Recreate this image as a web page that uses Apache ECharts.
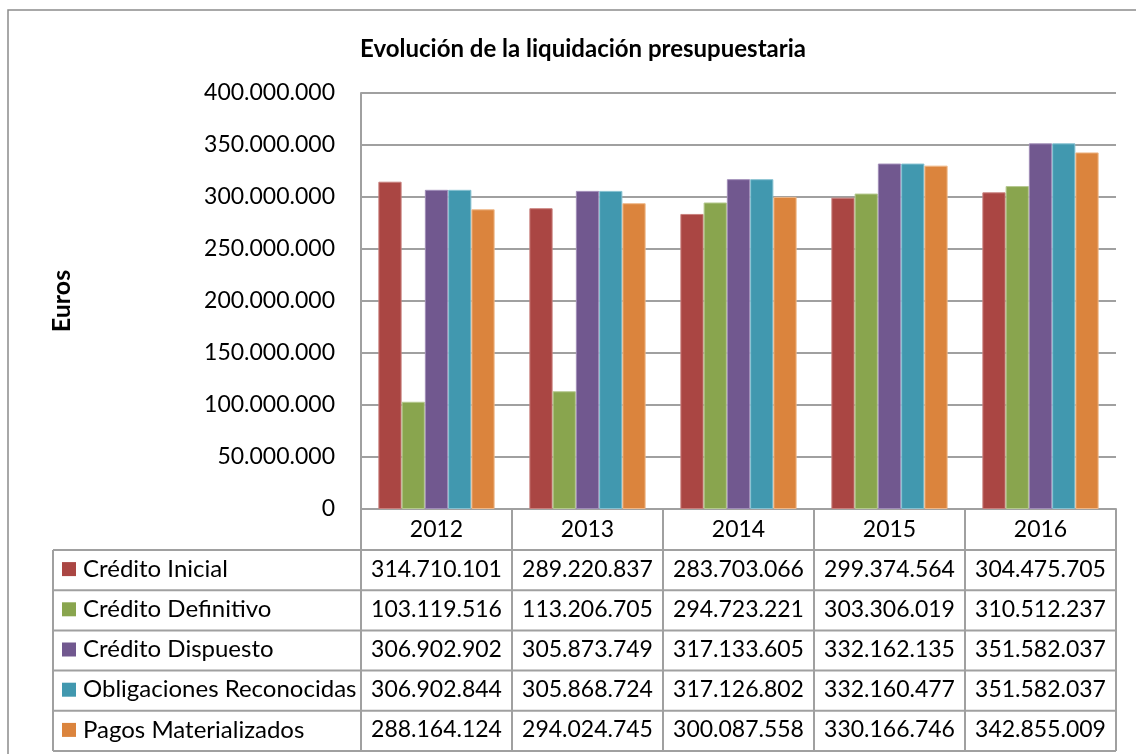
<!DOCTYPE html>
<html>
<head>
<meta charset="utf-8">
<title>Evolución de la liquidación presupuestaria</title>
<script src="https://cdn.jsdelivr.net/npm/echarts@6/dist/echarts.min.js"></script>
<style>
  html, body { margin: 0; padding: 0; background: #fff; }
  #chart { width: 1136px; height: 754px; }
</style>
</head>
<body>
<div id="chart"></div>
<script>
// años (categorías)
const years = ['2012', '2013', '2014', '2015', '2016'];
// nombres de las series
const seriesNames = ['Crédito Inicial', 'Crédito Definitivo', 'Crédito Dispuesto', 'Obligaciones Reconocidas', 'Pagos Materializados'];
// valores por serie
const creditoInicial = [314710101, 289220837, 283703066, 299374564, 304475705];
const creditoDefinitivo = [103119516, 113206705, 294723221, 303306019, 310512237];
const creditoDispuesto = [306902902, 305873749, 317133605, 332162135, 351582037];
const obligacionesReconocidas = [306902844, 305868724, 317126802, 332160477, 351582037];
const pagosMaterializados = [288164124, 294024745, 300087558, 330166746, 342855009];
// eje y
const yMin = 0;
const yMax = 400000000;
const yStep = 50000000;

const seriesData = [creditoInicial, creditoDefinitivo, creditoDispuesto, obligacionesReconocidas, pagosMaterializados];
const colors = ['#AA4643', '#89A54E', '#71588F', '#4198AF', '#DB843D'];
const borders = ['#C9807D', '#B5C98F', '#A08DB8', '#86C1D1', '#EFB889'];
const gridColor = '#a0a0a0';
const font = 'Lato';

// formato con puntos de miles
function fmt(v) {
  return String(v).replace(/\B(?=(\d{3})+(?!\d))/g, '.');
}

let myChart = echarts.init(document.getElementById('chart'));

let option = {
  animation: false,
  backgroundColor: '#fff',
  textStyle: { fontFamily: font },
  title: {
    text: 'Evolución de la liquidación presupuestaria',
    left: 578,
    top: 32,
    textAlign: 'center',
    textStyle: { fontFamily: font, fontSize: 24, fontWeight: 'bold', color: '#000' }
  },
  grid: { left: 361, top: 93, right: 20, bottom: 245 },
  xAxis: {
    type: 'category',
    data: years,
    axisLine: { show: true, lineStyle: { color: gridColor, width: 2 } },
    axisTick: { show: false },
    axisLabel: { margin: 21, verticalAlign: 'middle', fontSize: 23, color: '#000', fontFamily: font }
  },
  yAxis: {
    type: 'value',
    min: yMin,
    max: yMax,
    interval: yStep,
    name: 'Euros',
    nameLocation: 'middle',
    nameGap: 287,
    nameRotate: 90,
    nameTextStyle: { fontSize: 25, fontWeight: 'bold', color: '#000', fontFamily: font },
    axisLine: { show: true, lineStyle: { color: gridColor, width: 2 } },
    axisTick: { show: false },
    axisLabel: { margin: 26, fontSize: 23, color: '#000', fontFamily: font, formatter: v => fmt(v) },
    splitLine: { lineStyle: { color: gridColor, width: 2 } }
  },
  series: seriesNames.map((name, i) => ({
    name: name,
    type: 'bar',
    data: seriesData[i],
    barGap: '0%',
    barCategoryGap: '23%',
    itemStyle: { color: colors[i], borderColor: borders[i], borderWidth: 1 }
  }))
};
myChart.setOption(option);

// tabla de datos bajo el gráfico
const p0 = myChart.convertToPixel({ gridIndex: 0 }, [0, 0]);
const p1 = myChart.convertToPixel({ gridIndex: 0 }, [1, 0]);
const band = p1[0] - p0[0];
const axisY = p0[1];
const plotLeft = p0[0] - band / 2;
const plotRight = plotLeft + band * years.length;
const tableLeft = 53;
const headerH = 41;
const rowH = 40.2;
const tableBottom = axisY + headerH + rowH * seriesNames.length;

const lineStyle = { stroke: gridColor, lineWidth: 2 };
let graphics = [];

// borde exterior
graphics.push({
  type: 'rect', silent: true,
  shape: { x: 8, y: 10, width: 1200, height: 900 },
  style: { fill: null, stroke: '#8c8c8c', lineWidth: 1.5 }
});

// líneas horizontales
for (let r = 0; r <= seriesNames.length; r++) {
  const y = axisY + headerH + rowH * r;
  graphics.push({ type: 'line', silent: true, shape: { x1: tableLeft, y1: y, x2: plotRight, y2: y }, style: lineStyle });
}
// líneas verticales
graphics.push({ type: 'line', silent: true, shape: { x1: tableLeft, y1: axisY + headerH, x2: tableLeft, y2: tableBottom }, style: lineStyle });
for (let c = 0; c <= years.length; c++) {
  const x = plotLeft + band * c;
  graphics.push({ type: 'line', silent: true, shape: { x1: x, y1: axisY, x2: x, y2: tableBottom }, style: lineStyle });
}

// filas: leyenda y valores
seriesNames.forEach((name, r) => {
  const cy = axisY + headerH + rowH * r + rowH / 2 - 1;
  graphics.push({ type: 'rect', silent: true, shape: { x: 62, y: cy - 7, width: 14, height: 14 }, style: { fill: colors[r] } });
  graphics.push({
    type: 'text', silent: true, x: 83, y: cy,
    style: { text: name, fontSize: 24, fontFamily: font, fill: '#000', align: 'left', verticalAlign: 'middle' }
  });
  seriesData[r].forEach((v, c) => {
    graphics.push({
      type: 'text', silent: true, x: plotLeft + band * c + band / 2, y: cy,
      style: { text: fmt(v), fontSize: 23, fontFamily: font, fill: '#000', align: 'center', verticalAlign: 'middle' }
    });
  });
});

myChart.setOption({ graphic: graphics });
</script>
</body>
</html>
